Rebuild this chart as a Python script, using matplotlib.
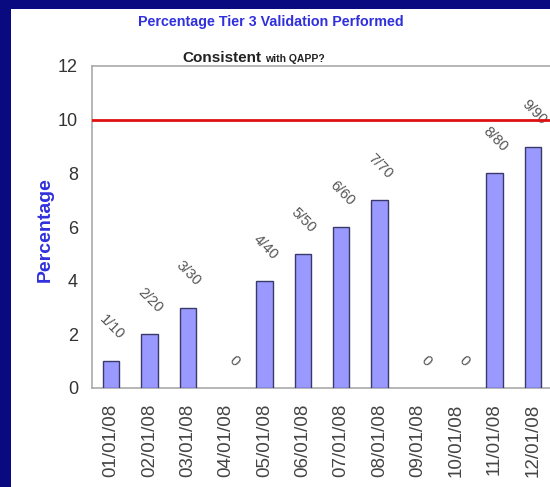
import matplotlib
matplotlib.use("Agg")
import matplotlib.pyplot as plt
from matplotlib.patches import Rectangle
import numpy as np

dates = ['01/01/08', '02/01/08', '03/01/08', '04/01/08', '05/01/08', '06/01/08',
         '07/01/08', '08/01/08', '09/01/08', '10/01/08', '11/01/08', '12/01/08']
values = [1, 2, 3, 0, 4, 5, 6, 7, 0, 0, 8, 9]
bar_labels = ['1/10', '2/20', '3/30', '0', '4/40', '5/50', '6/60', '7/70', '0', '0', '8/80', '9/90']
target = 10
yticks = [0, 2, 4, 6, 8, 10, 12]

narrow = ['Liberation Sans', 'DejaVu Sans']

W, H = 550, 487
fig = plt.figure(figsize=(W / 100, H / 100), dpi=100)
fig.patch.set_facecolor('#0a0a80')
bg = Rectangle((11 / W, 0), 1, 1 - 9 / H, transform=fig.transFigure,
               facecolor='white', edgecolor='none', zorder=-10)
fig.patches.append(bg)

ax = fig.add_axes([92 / W, 1 - 388 / H, 460 / W, (388 - 66) / H])
ax.set_zorder(5)
ax.set_facecolor('white')
x = np.arange(len(dates))
edges = ['#3a3a6a' if v > 0 else 'none' for v in values]
ax.bar(x, values, width=0.42, color='#9999ff', edgecolor=edges, linewidth=1.0, zorder=3)
ax.axhline(target, color='#e01010', linewidth=2, zorder=4)

for xi, v, lab in zip(x, values, bar_labels):
    ax.annotate(lab, (xi, v), xytext=(8, 17), textcoords='offset points',
                rotation=-45, rotation_mode='anchor', ha='right', va='center',
                fontsize=10.5, color='#555555', family=narrow, annotation_clip=False)

ax.set_xlim(-0.5, len(dates) - 0.5)
ax.set_ylim(0, 12)
ax.set_yticks(yticks)
ax.set_yticklabels([str(t) for t in yticks], fontsize=13, color='#333333', family=narrow)
ax.set_xticks(x)
ax.set_xticklabels(dates, rotation=90, fontsize=13.5, color='#444444', family=narrow, va='top')
ax.tick_params(axis='both', length=0)
ax.tick_params(axis='y', pad=10)
ax.tick_params(axis='x', pad=11)
for s in ['top', 'left', 'bottom']:
    ax.spines[s].set_color('#aaaaaa')
    ax.spines[s].set_linewidth(1.2)
ax.spines['right'].set_visible(False)

fig.text(271 / W, 1 - 22 / H, 'Percentage Tier 3 Validation Performed', ha='center', va='center',
         color='#3030dd', fontsize=10.3, fontweight='bold', family=narrow)
fig.text(182 / W, 1 - 58 / H, 'Consistent', ha='left', va='center',
         color='#222222', fontsize=11, fontweight='bold', family=narrow)
fig.text(265 / W, 1 - 59 / H, 'with QAPP?', ha='left', va='center',
         color='#222222', fontsize=7.5, fontweight='bold', family=narrow)
fig.text(45 / W, 1 - 230 / H, 'Percentage', ha='center', va='center', rotation=90,
         color='#3030dd', fontsize=14, fontweight='bold', family=narrow)

fig.savefig('out.png', dpi=100, facecolor=fig.get_facecolor())
